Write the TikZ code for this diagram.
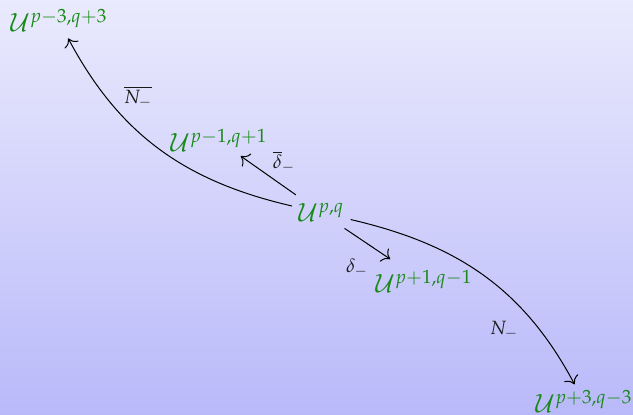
\documentclass[tikz,border=0pt]{standalone}
\usepackage{mathpazo}
\usetikzlibrary{arrows.meta}
\definecolor{spacegreen}{RGB}{24,138,24}
\definecolor{bgtop}{RGB}{234,234,253}
\definecolor{bgbot}{RGB}{185,185,250}

\begin{document}
\begin{tikzpicture}[x=0.5pt,y=-0.5pt,
    space/.style={text=spacegreen, font=\fontsize{12.6}{15}\selectfont, inner sep=3pt, anchor=base west},
    lbl/.style={font=\fontsize{9.6}{11}\selectfont, text=black!90, inner sep=1pt},
    map/.style={-{To[scale=1.4]}, black, line width=0.5pt}
]
\shade[top color=bgtop, bottom color=bgbot] (0,0) rectangle (633,415);
\useasboundingbox (0,0) rectangle (633,415);

\node[space] (pm3) at (4,32) {$\mathcal{U}^{p-3,q+3}$};
\node[space] (pm1) at (164,152) {$\mathcal{U}^{p-1,q+1}$};
\node[space] (pq) at (292,222) {$\mathcal{U}^{p,q}$};
\node[space] (pp1) at (369,293) {$\mathcal{U}^{p+1,q-1}$};
\node[space] (pp3) at (529,413) {$\mathcal{U}^{p+3,q-3}$};

\node[lbl] (lNbar) at (138,97) {$\overline{N_-}$};
\node[lbl] (ldbar) at (284,162) {$\overline{\delta}_-$};
\node[lbl] (ld) at (357,268) {$\delta_-$};
\node[lbl] (lN) at (504,330) {$N_-$};

\draw[map] (pq) to[out=167,in=-62] (pm3);
\draw[map, shorten <=2pt, shorten >=-2pt] (pq) -- (pm1);
\draw[map, shorten >=4.5pt] (pq) -- (pp1);
\draw[map] (pq) to[out=-13,in=118] (pp3);
\end{tikzpicture}
\end{document}
